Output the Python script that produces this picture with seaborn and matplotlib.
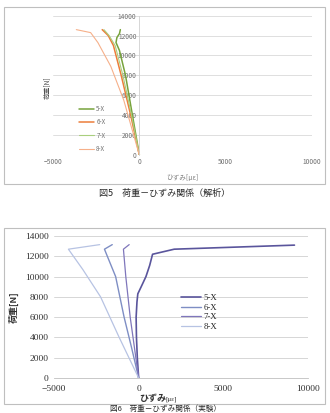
import pandas as pd
import matplotlib.pyplot as plt
import seaborn as sns
from matplotlib.patches import Rectangle

sns.set_style("white")
plt.rcParams["font.family"] = ["Noto Sans CJK JP", "DejaVu Sans"]

SERIES = ["5-X", "6-X", "7-X", "8-X"]

# top chart (analysis)
top_5x = ([0, -400, -800, -1150, -1350, -1300, -1150, -1100],
          [0, 4000, 8000, 10500, 11300, 11800, 12200, 12600])
top_6x = ([0, -500, -1050, -1500, -1800, -2150],
          [0, 4000, 8000, 11000, 12000, 12600])
top_7x = ([0, -450, -950, -1400, -1750, -2050],
          [0, 4000, 8000, 11000, 12000, 12600])
top_8x = ([0, -900, -1650, -2400, -2820, -3650],
          [0, 5500, 8900, 11300, 12300, 12600])

# bottom chart (experiment)
bot_5x = ([0, -80, -130, -150, -100, -50, 150, 430, 650, 820, 2100, 9200],
          [0, 2000, 4000, 6000, 7500, 8300, 9000, 10000, 11100, 12200, 12700, 13100])
bot_6x = ([0, -420, -860, -1360, -1850, -2020, -1560],
          [0, 3000, 6000, 10000, 12000, 12700, 13150])
bot_7x = ([0, -250, -500, -760, -900, -560],
          [0, 3000, 6000, 10000, 12700, 13150])
bot_8x = ([0, -1150, -2250, -3300, -4150, -2300],
          [0, 4000, 8000, 10700, 12700, 13150])

x_ticks = [-5000, 0, 5000, 10000]
y_ticks = [0, 2000, 4000, 6000, 8000, 10000, 12000, 14000]


def to_frame(groups):
    rows = []
    for name, (xs, ys) in zip(SERIES, groups):
        for i, (x, y) in enumerate(zip(xs, ys)):
            rows.append({"series": name, "order": i, "strain": x, "load": y})
    return pd.DataFrame(rows)


top_df = to_frame([top_5x, top_6x, top_7x, top_8x])
bot_df = to_frame([bot_5x, bot_6x, bot_7x, bot_8x])

W, H = 330, 413
fig = plt.figure(figsize=(W / 100, H / 100), dpi=100)


def fig_rect(x0, y0, x1, y1):
    return [x0 / W, 1 - y1 / H, (x1 - x0) / W, (y1 - y0) / H]


# chart frames
for (x0, y0, x1, y1) in [(4, 7, 325, 184), (4, 228, 325, 404)]:
    fig.patches.append(Rectangle((x0 / W, 1 - y1 / H), (x1 - x0) / W, (y1 - y0) / H,
                                 transform=fig.transFigure, fill=False,
                                 edgecolor="#bfbfbf", linewidth=0.8))

# ---------- top chart ----------
ax1 = fig.add_axes(fig_rect(53, 15.7, 312, 155))
top_pal = {"5-X": "#77a33c", "6-X": "#ec7d3a", "7-X": "#a9cf7e", "8-X": "#f6b08a"}
top_lw = {"5-X": 1.1, "6-X": 1.1, "7-X": 0.8, "8-X": 0.8}
for name in SERIES:
    sns.lineplot(data=top_df[top_df["series"] == name], x="strain", y="load",
                 sort=False, estimator=None, color=top_pal[name],
                 linewidth=top_lw[name], label=name, ax=ax1)
ax1.set_xlim(-5000, 10000)
ax1.set_ylim(0, 14000)
ax1.set_xticks(x_ticks)
ax1.set_yticks(y_ticks)
ax1.yaxis.grid(True, color="#d9d9d9", linewidth=0.6)
ax1.set_axisbelow(True)
for s in ["top", "right", "bottom"]:
    ax1.spines[s].set_visible(False)
ax1.spines["left"].set_position(("data", 0))
ax1.spines["left"].set_color("#d0d0d0")
ax1.spines["left"].set_linewidth(0.6)
ax1.tick_params(axis="both", length=0, labelsize=4.8, colors="#707070", pad=2)
ax1.set_xlabel("ひずみ[με]", fontsize=4.8, color="#808080", labelpad=6)
ax1.set_ylabel("")
fig.text(47 / W, 1 - 88 / H, "荷重[N]", rotation=90, fontsize=4.8,
         color="#505050", ha="center", va="center")
leg1 = ax1.legend(loc="upper left", bbox_to_anchor=(0.08, 0.40), frameon=False,
                  fontsize=4.5, handlelength=2.4, labelspacing=0.85, handletextpad=0.3)
for t in leg1.get_texts():
    t.set_color("#707070")

fig.text(165 / W, 1 - 193 / H, "図5　荷重－ひずみ関係（解析）", fontsize=6.5,
         ha="center", va="center")

# ---------- bottom chart ----------
ax2 = fig.add_axes(fig_rect(54, 236, 308, 378))
bot_pal = {"5-X": "#5a559c", "6-X": "#7e8ec4", "7-X": "#7f76bb", "8-X": "#b7c3e3"}
bot_lw = {"5-X": 1.2, "6-X": 1.0, "7-X": 0.9, "8-X": 0.9}
for name in SERIES:
    sns.lineplot(data=bot_df[bot_df["series"] == name], x="strain", y="load",
                 sort=False, estimator=None, color=bot_pal[name],
                 linewidth=bot_lw[name], label=name, ax=ax2)
ax2.set_xlim(-5000, 10000)
ax2.set_ylim(0, 14000)
ax2.set_xticks(x_ticks)
ax2.set_yticks(y_ticks)
ax2.yaxis.grid(True, color="#d0d0d0", linewidth=0.6)
ax2.set_axisbelow(True)
for s in ["top", "right", "left"]:
    ax2.spines[s].set_visible(False)
ax2.spines["bottom"].set_color("#bfbfbf")
ax2.spines["bottom"].set_linewidth(0.6)
ax2.tick_params(axis="y", length=0, labelsize=6.8, pad=4, colors="#303030")
ax2.tick_params(axis="x", length=2, color="#bfbfbf", labelsize=6.8, pad=3,
                labelcolor="#303030")
for lab in ax2.get_xticklabels() + ax2.get_yticklabels():
    lab.set_family("Liberation Serif")
ax2.set_xlabel("")
ax2.set_ylabel("")
fig.text(166 / W, 1 - 399 / H, "ひずみ", fontsize=6.5, fontweight="bold",
         ha="right", va="center", color="#303030")
fig.text(166 / W, 1 - 399 / H, "[με]", fontsize=5, family="Liberation Serif",
         ha="left", va="center", color="#303030")
fig.text(14 / W, 1 - 307 / H, "荷重[N]", rotation=90, fontsize=6.5,
         fontweight="bold", ha="center", va="center", color="#303030")
leg2 = ax2.legend(loc="upper left", bbox_to_anchor=(0.47, 0.65), frameon=False,
                  prop={"family": "Liberation Serif", "size": 6.3},
                  handlelength=2.2, labelspacing=0.2, handletextpad=0.3)

fig.text(165 / W, 1 - 409 / H, "図6　荷重－ひずみ関係（実験）", fontsize=5.5,
         ha="center", va="center")

fig.savefig("out.png", dpi=100)
